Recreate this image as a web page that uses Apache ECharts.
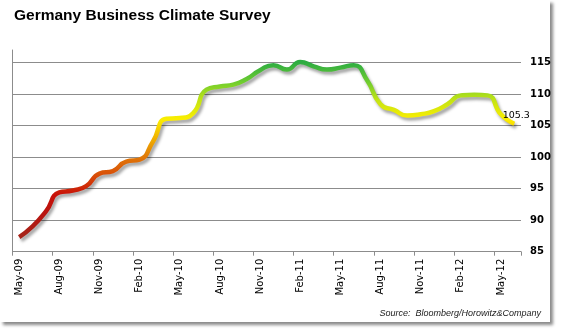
<!DOCTYPE html>
<html>
<head>
<meta charset="utf-8">
<script src="https://cdn.jsdelivr.net/npm/echarts@6/dist/echarts.min.js"></script>
<style>
  html, body { margin: 0; padding: 0; background: #fff; }
  #frame { position: absolute; left: 0; top: 0; width: 550px; height: 322px; background: #fff; box-shadow: 3px 3px 3px #8a8a8a; }
  #chart { position: absolute; left: 0; top: 0; width: 562px; height: 332px; }
</style>
</head>
<body>
<div id="frame"></div>
<div id="chart"></div>
<script>
// Monthly Ifo business climate readings, May 2009 - June 2012
const months = [
  'May-09','Jun-09','Jul-09','Aug-09','Sep-09','Oct-09','Nov-09','Dec-09',
  'Jan-10','Feb-10','Mar-10','Apr-10','May-10','Jun-10','Jul-10','Aug-10',
  'Sep-10','Oct-10','Nov-10','Dec-10','Jan-11','Feb-11','Mar-11','Apr-11',
  'May-11','Jun-11','Jul-11','Aug-11','Sep-11','Oct-11','Nov-11','Dec-11',
  'Jan-12','Feb-12','Mar-12','Apr-12','May-12','Jun-12'
];
const climate = [
  87.3, 89.0, 91.4, 94.4, 94.7, 95.4, 97.4, 97.8,
  99.3, 99.6, 102.5, 106.1, 106.2, 107.0, 110.7, 111.2,
  111.5, 112.4, 113.8, 114.6, 113.9, 115.1, 114.4, 113.9,
  114.2, 114.6, 112.2, 108.4, 107.5, 106.6, 106.8, 107.3,
  108.4, 109.8, 109.9, 109.8, 106.8, 105.3
];
const yTicks = { min: 85, max: 117, step: 5 };

const seriesData = climate.map((v, i) =>
  i === climate.length - 1 ? { value: v, label: { show: true } } : v
);

const chart = echarts.init(document.getElementById('chart'), null, { renderer: 'canvas' });
chart.setOption({
  backgroundColor: 'transparent',
  animation: false,
  title: [
    {
      text: 'Germany Business Climate Survey',
      left: 9, top: 3,
      textStyle: { fontFamily: 'Liberation Sans', fontSize: 15.5, fontWeight: 'bold', color: '#000' }
    },
    {
      text: 'Source:  Bloomberg/Horowitz&Company',
      right: 16, top: 304,
      textStyle: { fontFamily: 'Liberation Sans', fontSize: 9, fontStyle: 'italic', fontWeight: 'normal', color: '#222' }
    }
  ],
  grid: { left: 12.5, right: 41, top: 50, bottom: 80.3, containLabel: false },
  xAxis: {
    type: 'category',
    data: months,
    boundaryGap: true,
    axisLine: { lineStyle: { color: '#8c8c8c', width: 1 } },
    axisTick: { show: true, interval: 2, length: 4, lineStyle: { color: '#8c8c8c' } },
    axisLabel: {
      interval: 2, rotate: 90, margin: 7,
      fontFamily: 'DejaVu Sans', fontSize: 10, color: '#000'
    },
    splitLine: { show: false }
  },
  yAxis: [
    {
      type: 'value', position: 'right',
      min: yTicks.min, max: yTicks.max, interval: yTicks.step,
      axisLine: { show: false }, axisTick: { show: false },
      axisLabel: {
        margin: 9, showMaxLabel: false,
        fontFamily: 'DejaVu Sans', fontSize: 10, fontWeight: 'bold', color: '#000'
      },
      splitLine: { show: true, showMaxLine: false, lineStyle: { color: '#8c8c8c', width: 1 } }
    },
    {
      type: 'value', position: 'left',
      min: yTicks.min, max: yTicks.max, interval: yTicks.step,
      axisLine: { show: true, lineStyle: { color: '#8c8c8c', width: 1 } },
      axisTick: { show: false }, axisLabel: { show: false }, splitLine: { show: false }
    }
  ],
  visualMap: {
    show: false, type: 'continuous', seriesIndex: 0, dimension: 1,
    min: 85, max: 115,
    inRange: {
      color: ['#9a2a22', '#a82218', '#b81410', '#c81008', '#d84c08', '#e07808',
              '#f0b000', '#fcee00', '#c4e414', '#6ccc30', '#2eac42']
    }
  },
  series: [{
    type: 'line',
    yAxisIndex: 0,
    data: seriesData,
    smooth: 0.55,
    showSymbol: true,
    showAllSymbol: true,
    symbol: 'circle',
    symbolSize: 0,
    lineStyle: {
      width: 4.5,
      shadowColor: 'rgba(0,0,0,0.35)', shadowBlur: 3, shadowOffsetX: 2, shadowOffsetY: 3
    },
    label: {
      show: false, position: 'top', distance: 3, offset: [2, 0],
      fontFamily: 'DejaVu Sans', fontSize: 9.5, color: '#000',
      formatter: p => p.value.toFixed(1)
    },
    emphasis: { disabled: true }
  }]
});
</script>
</body>
</html>
